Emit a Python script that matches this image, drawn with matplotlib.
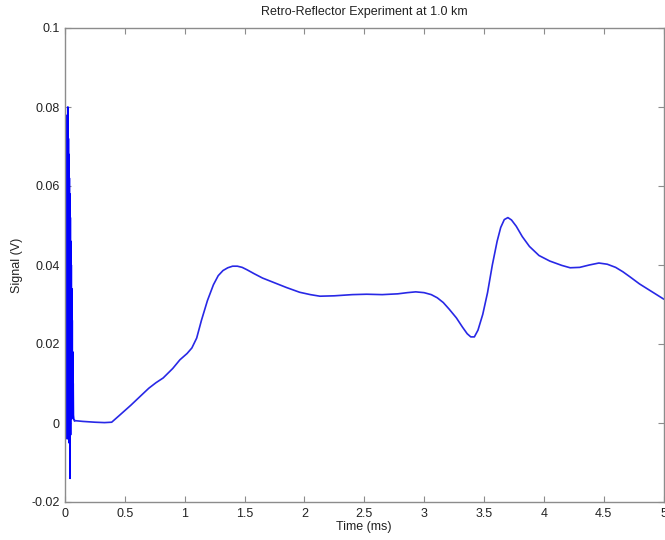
"""Retro-reflector return signal at 1.0 km."""

import matplotlib

matplotlib.use("Agg")
import matplotlib.pyplot as plt

# Detector ringing right after the laser fires (ms, V)
ring_time = [0.000, 0.012, 0.016, 0.018, 0.020, 0.022, 0.024, 0.026, 0.028,
             0.030, 0.032, 0.034, 0.036, 0.038, 0.040, 0.042, 0.044, 0.046,
             0.048, 0.050, 0.052, 0.054, 0.056, 0.058, 0.060, 0.062, 0.064,
             0.066, 0.068, 0.070, 0.073]
ring_signal = [0.0, 0.0, 0.050, -0.004, 0.078, 0.002, 0.080, -0.002, 0.072,
               0.004, 0.068, -0.005, 0.062, 0.000, 0.058, -0.014, 0.052,
               -0.003, 0.046, 0.002, 0.040, 0.001, 0.034, 0.003, 0.026,
               0.002, 0.018, 0.003, 0.010, 0.002, 0.001]

# Slow return after the ringing dies out (ms, V)
return_time = [0.08, 0.15, 0.25, 0.33, 0.39, 0.45, 0.55, 0.63, 0.70, 0.76,
               0.82, 0.90, 0.96, 1.02, 1.06, 1.10, 1.14, 1.19, 1.24, 1.28,
               1.32, 1.36, 1.40, 1.44, 1.48, 1.52, 1.58, 1.65, 1.75, 1.85,
               1.96, 2.05, 2.13, 2.25, 2.40, 2.52, 2.65, 2.78, 2.86, 2.93,
               3.00, 3.06, 3.11, 3.16, 3.21, 3.27, 3.32, 3.36, 3.39, 3.42,
               3.45, 3.49, 3.53, 3.57, 3.61, 3.64, 3.67, 3.70, 3.73, 3.77,
               3.82, 3.88, 3.96, 4.05, 4.15, 4.22, 4.30, 4.38, 4.46, 4.53,
               4.60, 4.66, 4.72, 4.80, 4.90, 5.00]
return_signal = [0.0006, 0.0004, 0.0002, 0.0001, 0.0002, 0.0018, 0.0045,
                 0.0068, 0.0088, 0.0102, 0.0114, 0.0138, 0.0160, 0.0176,
                 0.0190, 0.0215, 0.0260, 0.0310, 0.0350, 0.0373, 0.0386,
                 0.0393, 0.0397, 0.0397, 0.0394, 0.0388, 0.0378, 0.0367,
                 0.0355, 0.0343, 0.0331, 0.0325, 0.0321, 0.0322, 0.0325,
                 0.0326, 0.0325, 0.0327, 0.0330, 0.0332, 0.0330, 0.0325,
                 0.0317, 0.0305, 0.0288, 0.0266, 0.0243, 0.0226, 0.0218,
                 0.0218, 0.0235, 0.0275, 0.0330, 0.0400, 0.0460, 0.0495,
                 0.0515, 0.0520, 0.0514, 0.0498, 0.0472, 0.0447, 0.0424,
                 0.0410, 0.0399, 0.0393, 0.0394, 0.0400, 0.0405, 0.0402,
                 0.0394, 0.0383, 0.0370, 0.0352, 0.0333, 0.0314]

x_ticks = [0, 0.5, 1, 1.5, 2, 2.5, 3, 3.5, 4, 4.5, 5]
x_tick_labels = ["0", "0.5", "1", "1.5", "2", "2.5", "3", "3.5", "4", "4.5", "5"]
y_ticks = [-0.02, 0, 0.02, 0.04, 0.06, 0.08, 0.1]
y_tick_labels = ["-0.02", "0", "0.02", "0.04", "0.06", "0.08", "0.1"]

plt.rcParams["font.family"] = ["Liberation Sans", "DejaVu Sans"]

W, H = 665, 540
fig = plt.figure(figsize=(W / 100, H / 100), dpi=100)
ax = fig.add_axes([65 / W, 1 - 502 / H, (663.5 - 65) / W, (502 - 28) / H])

# ringing is drawn a touch heavier so the dense oscillation reads as a band
ax.plot(ring_time + return_time[:1], ring_signal + return_signal[:1],
        color="#0000ff", linewidth=1.3)
ax.plot(return_time, return_signal, color="#2828e6", linewidth=1.2)

ax.set_xlim(0, 5)
ax.set_ylim(-0.02, 0.1)
ax.set_xticks(x_ticks)
ax.set_xticklabels(x_tick_labels)
ax.set_yticks(y_ticks)
ax.set_yticklabels(y_tick_labels)

for side in ax.spines.values():
    side.set_color("#8c8c8c")
    side.set_linewidth(1.0)
ax.tick_params(direction="in", length=4, width=0.8, color="#8c8c8c",
               top=True, right=True, labelsize=9, labelcolor="#222222", pad=4)

ax.set_title("Retro-Reflector Experiment at 1.0 km", fontsize=9, color="#222222", pad=9)
ax.set_xlabel("Time (ms)", fontsize=9, color="#222222", labelpad=1)
ax.set_ylabel("Signal (V)", fontsize=9, color="#222222", labelpad=6)

fig.savefig("out.png", dpi=100)
